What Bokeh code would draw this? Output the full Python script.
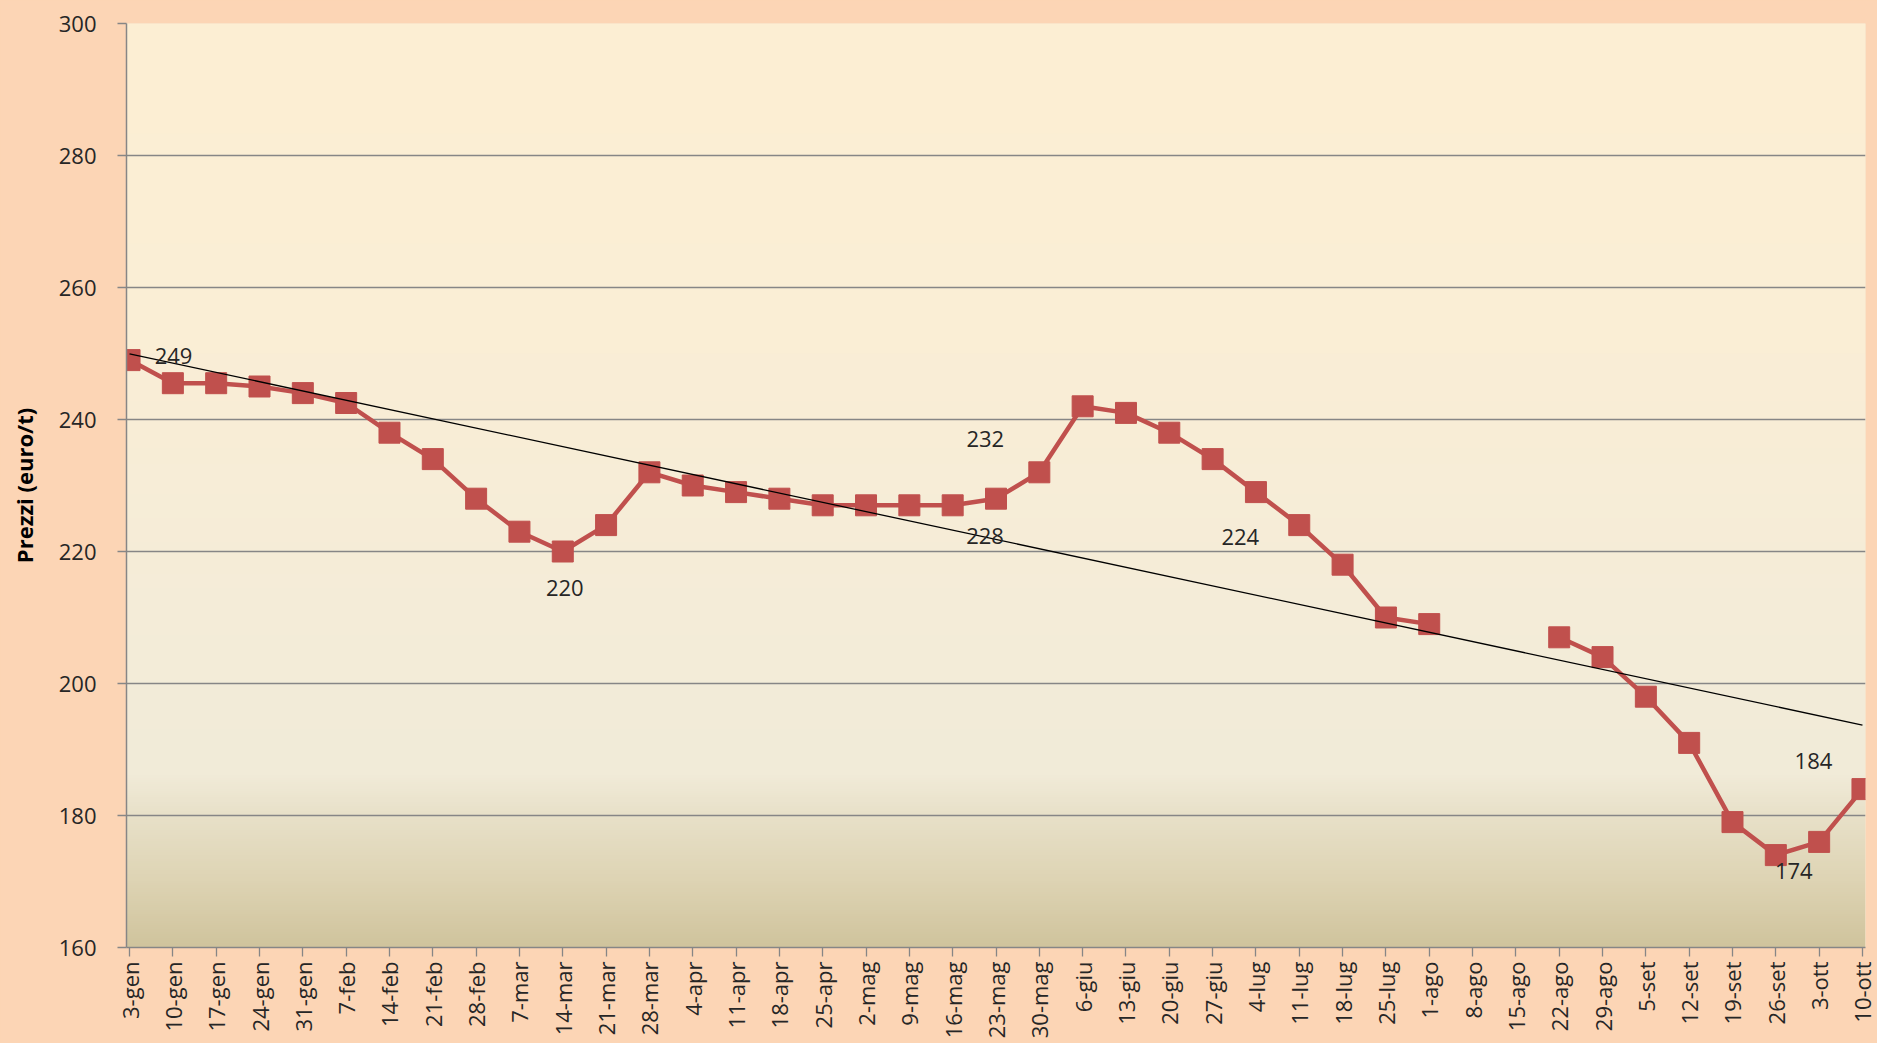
import math
import numpy as np
from bokeh.plotting import figure
from bokeh.models import Range1d, FixedTicker
from bokeh.core.properties import value
from bokeh.embed import file_html
from bokeh.resources import INLINE

# ---------------- data ----------------
dates = ["3-gen", "10-gen", "17-gen", "24-gen", "31-gen",
         "7-feb", "14-feb", "21-feb", "28-feb",
         "7-mar", "14-mar", "21-mar", "28-mar",
         "4-apr", "11-apr", "18-apr", "25-apr",
         "2-mag", "9-mag", "16-mag", "23-mag", "30-mag",
         "6-giu", "13-giu", "20-giu", "27-giu",
         "4-lug", "11-lug", "18-lug", "25-lug",
         "1-ago", "8-ago", "15-ago", "22-ago", "29-ago",
         "5-set", "12-set", "19-set", "26-set",
         "3-ott", "10-ott"]
prices = [249, 245.5, 245.5, 245, 244,
          242.5, 238, 234, 228,
          223, 220, 224, 232,
          230, 229, 228, 227,
          227, 227, 227, 228, 232,
          242, 241, 238, 234,
          229, 224, 218, 210,
          209, None, None, 207, 204,
          198, 191, 179, 174,
          176, 184]
y_ticks = [160, 180, 200, 220, 240, 260, 280, 300]
y_title = "Prezzi (euro/t)"

# data labels: which point, and pixel offsets of the text (positive dy = down)
label_dates = ["3-gen", "14-mar", "30-mag", "23-mag", "11-lug", "26-set", "10-ott"]
label_dx = [44, 2, -54, -11, -59, 18, -49]
label_dy = [-4, 36, -33, 37, 12, 16, -28]

# ---------------- styles ----------------
PEACH = "#FCD5B5"
RED = "#C0504D"
GRID = "#868686"
FONT = "Open Sans"
TXT = "#262626"

x = np.arange(len(dates), dtype=float)
y = np.array([np.nan if v is None else v for v in prices], dtype=float)

p = figure(width=1877, height=1043, output_backend="svg", toolbar_location=None,
           x_range=Range1d(-0.07, len(dates) - 1 + 0.07),
           y_range=Range1d(y_ticks[0], y_ticks[-1]),
           min_border_left=126, min_border_right=12, min_border_top=23,
           min_border_bottom=96, border_fill_color=PEACH,
           background_fill_color="#F6EDD8", outline_line_color=None)

# plot-area vertical gradient (background styling)
stops_v = [160, 170, 180, 186, 200, 250, 300]
stops_c = [(208, 196, 157), (222, 212, 180), (232, 225, 201), (241, 235, 216),
           (243, 236, 217), (250, 238, 214), (253, 238, 211)]
nrows = 420
vals = np.linspace(y_ticks[0], y_ticks[-1], nrows)
img = np.empty((nrows, 1), dtype=np.uint32)
view = img.view(dtype=np.uint8).reshape((nrows, 1, 4))
for ch in range(3):
    view[:, 0, ch] = np.interp(vals, stops_v, [c[ch] for c in stops_c]).astype(np.uint8)
view[:, 0, 3] = 255
p.image_rgba(image=[img], x=-0.07, y=y_ticks[0], dw=len(dates) - 1 + 0.14,
             dh=y_ticks[-1] - y_ticks[0], level="image")

# grid
p.xgrid.grid_line_color = None
p.ygrid.grid_line_color = GRID
p.ygrid.grid_line_width = 1.3
p.ygrid.ticker = FixedTicker(ticks=y_ticks)

# axes
p.yaxis.ticker = FixedTicker(ticks=y_ticks)
p.xaxis.ticker = FixedTicker(ticks=list(range(len(dates))))
p.xaxis.major_label_overrides = {i: d for i, d in enumerate(dates)}
p.xaxis.major_label_orientation = math.pi / 2
for ax in (p.xaxis[0], p.yaxis[0]):
    ax.axis_line_color = GRID
    ax.axis_line_width = 1.5
    ax.major_tick_line_color = GRID
    ax.major_tick_line_width = 1.3
    ax.major_tick_in = 0
    ax.major_tick_out = 9
    ax.minor_tick_line_color = None
    ax.major_label_text_font = FONT
    ax.major_label_text_font_size = "22px"
    ax.major_label_text_color = TXT
p.yaxis.major_label_standoff = 21
p.xaxis.major_label_standoff = 5
p.yaxis.axis_label = y_title
p.yaxis.axis_label_text_font = FONT
p.yaxis.axis_label_text_font_style = "bold"
p.yaxis.axis_label_text_font_size = "22px"
p.yaxis.axis_label_text_color = "#000000"
p.yaxis.axis_label_standoff = 17

# series
p.line(x, y, line_color=RED, line_width=4.5)
p.scatter(x, y, marker="square", size=21, fill_color=RED, line_color=RED)

# linear trend line (least squares over available points)
ok = ~np.isnan(y)
slope, intercept = np.polyfit(x[ok], y[ok], 1)
p.line([x[0], x[-1]], [intercept + slope * x[0], intercept + slope * x[-1]],
       line_color="#000000", line_width=1.3)

# data labels
lx = [dates.index(d) for d in label_dates]
ly = [prices[i] for i in lx]
lt = ["%d" % v for v in ly]
p.text(x=lx, y=ly, text=lt, x_offset=label_dx, y_offset=label_dy,
       text_font=value(FONT), text_font_size="22px", text_color=TXT,
       text_align="center", text_baseline="middle")

tmpl = """
{% block postamble %}
<style>html, body { background: #FCD5B5; margin: 0; padding: 0; overflow: hidden; }</style>
{% endblock %}
"""
open("out.html", "w").write(file_html(p, INLINE, template=tmpl))
